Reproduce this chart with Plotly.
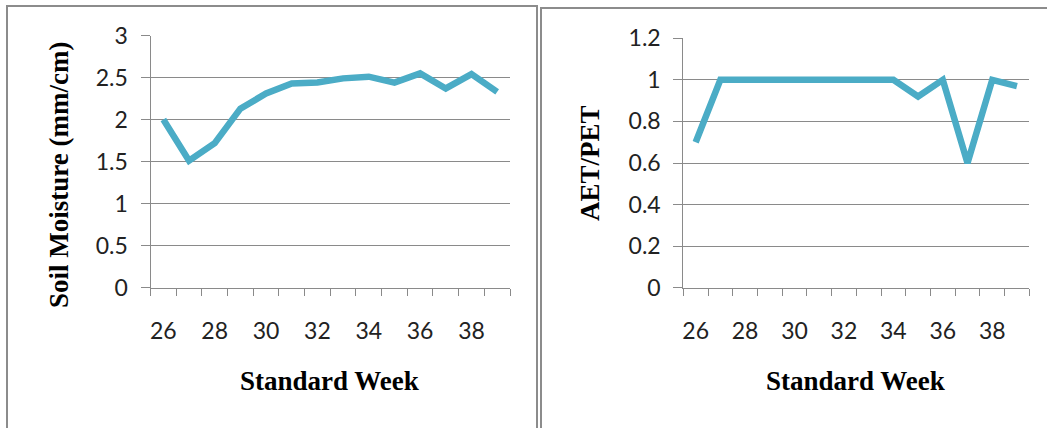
import plotly.graph_objects as go

weeks = list(range(26, 40))
soil_moisture = [2.0, 1.51, 1.72, 2.13, 2.31, 2.43, 2.44, 2.49, 2.51, 2.44, 2.55, 2.37, 2.54, 2.33]
aet_pet = [0.7, 1.0, 1.0, 1.0, 1.0, 1.0, 1.0, 1.0, 1.0, 0.92, 1.0, 0.6, 1.0, 0.97]
x_ticks = [26, 28, 30, 32, 34, 36, 38]

W, H = 1047, 428
LINE = "#4bacc6"
GRID = "#8a8a8a"
TICK_FONT = dict(family="Lato, Open Sans, sans-serif", size=23, color="#222222")
TITLE_FONT = dict(family="Liberation Serif, Times New Roman, serif", size=27, color="#000000")


def px(x):
    return x / W


def py(y):
    return 1 - y / H


fig = go.Figure()
fig.add_trace(go.Scatter(x=weeks, y=soil_moisture, mode="lines", xaxis="x", yaxis="y",
                         line=dict(color=LINE, width=6.5), showlegend=False))
fig.add_trace(go.Scatter(x=weeks, y=aet_pet, mode="lines", xaxis="x2", yaxis="y2",
                         line=dict(color=LINE, width=6.5), showlegend=False))

xcommon = dict(
    range=[25.5, 39.5], tickvals=x_ticks, ticks="", showgrid=False, zeroline=False,
    showline=True, linecolor=GRID, linewidth=1, tickfont=TICK_FONT, ticklabelstandoff=23,
    automargin=False,
    minor=dict(tick0=25.5, dtick=1, ticks="outside", ticklen=7, tickcolor=GRID, showgrid=False),
)
ycommon = dict(
    showgrid=True, gridcolor=GRID, gridwidth=1, zeroline=False, showline=True, linecolor=GRID,
    linewidth=1, ticks="outside", ticklen=9, tickcolor=GRID, tickfont=TICK_FONT, ticklabelstandoff=8,
    automargin=False,
)

annot = dict(xref="paper", yref="paper", showarrow=False, xanchor="center", yanchor="middle",
             font=TITLE_FONT)

fig.update_layout(
    width=W, height=H, margin=dict(l=0, r=0, t=0, b=0, pad=0), autosize=False,
    paper_bgcolor="white", plot_bgcolor="white",
    xaxis=dict(domain=[px(150.5), px(510)], anchor="y", **xcommon),
    yaxis=dict(domain=[py(287.7), py(35.5)], range=[0, 3], dtick=0.5, anchor="x", **ycommon),
    xaxis2=dict(domain=[px(683.3), px(1029.3)], anchor="y2", **xcommon),
    yaxis2=dict(domain=[py(287.7), py(38.3)], range=[0, 1.2], dtick=0.2, anchor="x2", **ycommon),
    annotations=[
        dict(text="<b>Standard Week</b>", x=px(329), y=py(381), **annot),
        dict(text="<b>Standard Week</b>", x=px(855.5), y=py(381), **annot),
        dict(text="<b>Soil Moisture (mm/cm)</b>", x=px(58.5), y=py(175.5), textangle=-90, **annot),
        dict(text="<b>AET/PET</b>", x=px(590), y=py(163), textangle=-90, **annot),
    ],
    shapes=[
        dict(type="rect", xref="paper", yref="paper", x0=px(7), x1=px(537), y0=py(440), y1=py(6),
             line=dict(color="#8c8c8c", width=2)),
        dict(type="rect", xref="paper", yref="paper", x0=px(541), x1=px(1060), y0=py(440), y1=py(8),
             line=dict(color="#8c8c8c", width=2)),
    ],
)

fig.write_html("out.html", config={"displayModeBar": False},
               post_script="document.body.style.margin = '0px';")
